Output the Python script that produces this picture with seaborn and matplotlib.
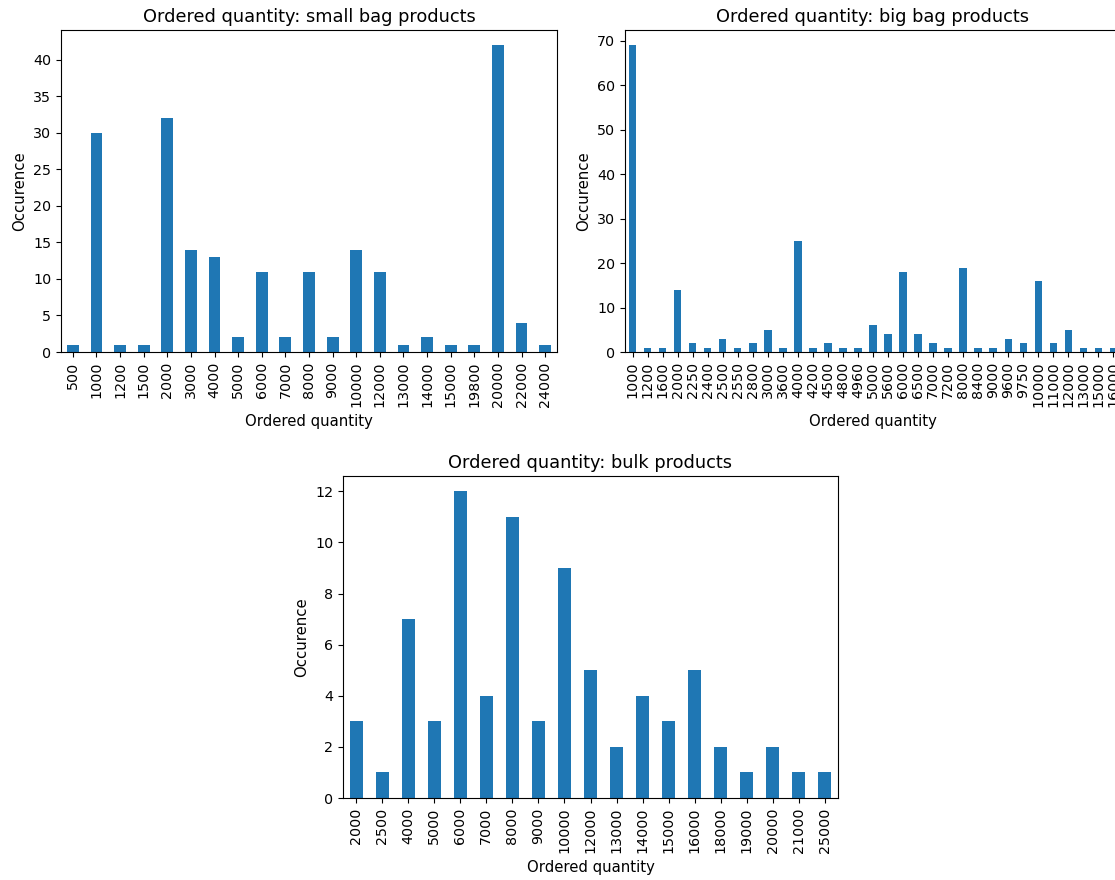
import pandas as pd
import numpy as np
import matplotlib
matplotlib.use("Agg")
import matplotlib.pyplot as plt
import seaborn as sns

### order quantity counts per product type
small_qty = ["500", "1000", "1200", "1500", "2000", "3000", "4000", "5000", "6000", "7000",
             "8000", "9000", "10000", "12000", "13000", "14000", "15000", "19800", "20000",
             "22000", "24000"]
small_cnt = [1, 30, 1, 1, 32, 14, 13, 2, 11, 2, 11, 2, 14, 11, 1, 2, 1, 1, 42, 4, 1]

big_qty = ["1000", "1200", "1600", "2000", "2250", "2400", "2500", "2550", "2800", "3000",
           "3600", "4000", "4200", "4500", "4800", "4960", "5000", "5600", "6000", "6500",
           "7000", "7200", "8000", "8400", "9000", "9600", "9750", "10000", "11000", "12000",
           "13000", "15000", "16000"]
big_cnt = [69, 1, 1, 14, 2, 1, 3, 1, 2, 5, 1, 25, 1, 2, 1, 1, 6, 4, 18, 4, 2, 1, 19, 1, 1,
           3, 2, 16, 2, 5, 1, 1, 1]

bulk_qty = ["2000", "2500", "4000", "5000", "6000", "7000", "8000", "9000", "10000", "12000",
            "13000", "14000", "15000", "16000", "18000", "19000", "20000", "21000", "25000"]
bulk_cnt = [3, 1, 7, 3, 12, 4, 11, 3, 9, 5, 2, 4, 3, 5, 2, 1, 2, 1, 1]

W, H = 1115, 880
fig = plt.figure(figsize=(W / 100, H / 100), dpi=100)


def box(l, t, r, b):
    # pixel box -> figure fraction
    return [l / W, 1 - b / H, (r - l) / W, (b - t) / H]


panels = [
    (box(61, 30, 557, 352), small_qty, small_cnt, "Ordered quantity: small bag products", [0, 5, 10, 15, 20, 25, 30, 35, 40]),
    (box(625, 30, 1121, 352), big_qty, big_cnt, "Ordered quantity: big bag products", [0, 10, 20, 30, 40, 50, 60, 70]),
    (box(343, 476, 838, 798), bulk_qty, bulk_cnt, "Ordered quantity: bulk products", [0, 2, 4, 6, 8, 10, 12]),
]

for pos, qty, cnt, title, yt in panels:
    ax = fig.add_axes(pos)
    df = pd.DataFrame({"qty": qty, "cnt": cnt})
    sns.barplot(data=df, x="qty", y="cnt", order=qty, color="#1f77b4", saturation=1,
                width=0.5, errorbar=None, ax=ax)
    ax.set_xlim(-0.5, len(qty) - 0.5)
    ax.set_ylim(0, max(cnt) * 1.05)
    ax.set_yticks(yt)
    ax.tick_params(axis="x", labelrotation=90, labelsize=10.3)
    ax.tick_params(axis="y", labelsize=10.3)
    ax.set_title(title, fontsize=12.8)
    ax.set_xlabel("Ordered quantity", fontsize=10.7, labelpad=5)
    ax.set_ylabel("Occurence", fontsize=10.7)

fig.savefig("out.png", dpi=100)
